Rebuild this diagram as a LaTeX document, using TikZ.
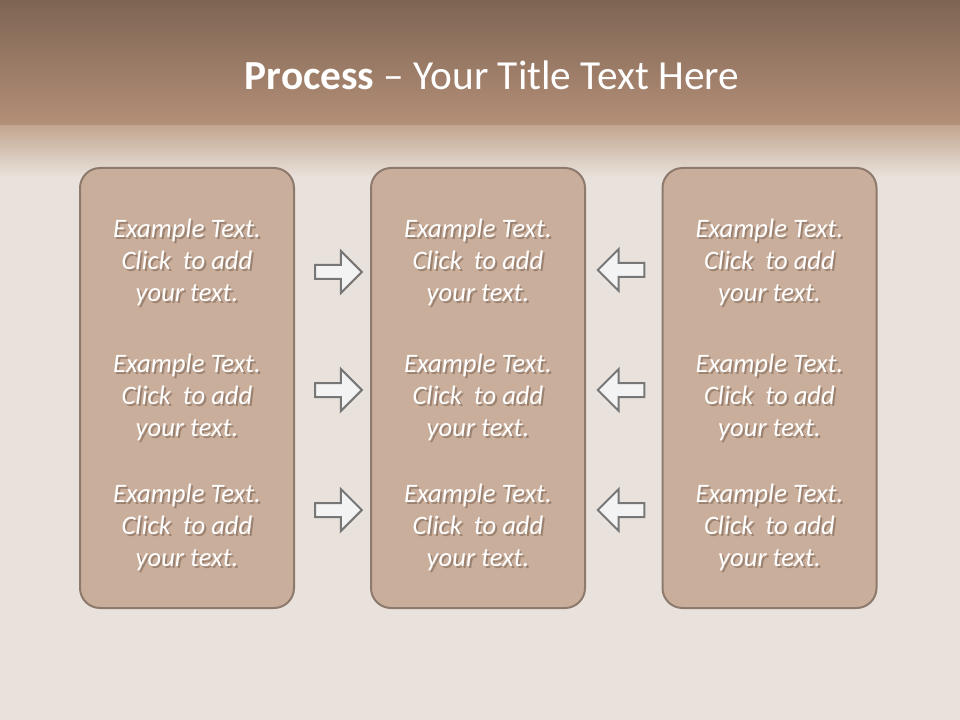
\documentclass[tikz,border=0pt]{standalone}
\usepackage{fontspec}
\setmainfont{Carlito}
\usetikzlibrary{shapes.arrows}
\definecolor{bgpaper}{HTML}{E9E2DC}
\definecolor{bandtop}{HTML}{7E6553}
\definecolor{bandbot}{HTML}{B48F78}
\definecolor{fadetop}{HTML}{C3A791}
\definecolor{boxfill}{HTML}{C9AE9B}
\definecolor{boxline}{HTML}{8E7A6D}
\definecolor{arrowfill}{HTML}{F3F3F3}
\definecolor{arrowline}{HTML}{777777}
\definecolor{txtshadow}{HTML}{6E5647}
\tikzset{
  panel/.style={draw=boxline, line width=1.5pt, fill=boxfill, rounded corners=15pt,
    minimum width=160.5pt, minimum height=330pt, inner sep=0pt},
  bodytext/.style={text=white, font=\fontsize{20}{24}\selectfont\itshape, align=center, inner sep=0pt},
  shadowtext/.style={text=txtshadow, opacity=0.5, font=\fontsize{20}{24}\selectfont\itshape, align=center, inner sep=0pt},
  blockarrow/.style={single arrow, draw=arrowline, line width=1.5pt, fill=arrowfill,
    minimum height=35pt, single arrow head extend=10.5pt, inner ysep=4.5pt, inner xsep=0pt},
  titletext/.style={text=white, font=\fontsize{31}{38}\selectfont, inner sep=0pt}
}
\begin{document}
\begin{tikzpicture}[x=0.75pt,y=-0.75pt]
\useasboundingbox (0,0) rectangle (960,720);
\fill[bgpaper] (0,0) rectangle (960,720);
\shade[top color=bandtop, bottom color=bandbot] (0,0) rectangle (960,126);
\shade[top color=fadetop, bottom color=bgpaper] (0,126) rectangle (960,178);
\node[titletext] (title) at (492,75) {\textbf{Process} – Your Title Text Here};

\node[panel] (p1) at (187,388) {};
\node[panel] (p2) at (478,388) {};
\node[panel] (p3) at (769.5,388) {};

\foreach \c/\x in {1/187,2/478,3/769.5}{
  \foreach \r/\y in {1/262,2/397,3/527}{
    \node[shadowtext] (s\c\r) at (\x+2,\y+2.5) {Example Text.\\Click\ \ to add\\your text.};
    \node[bodytext] (t\c\r) at (\x,\y) {Example Text.\\Click\ \ to add\\your text.};
  }
}

\node[blockarrow] (ar1) at (335,272) {};
\node[blockarrow] (ar2) at (335,390) {};
\node[blockarrow] (ar3) at (335,510) {};
\node[blockarrow, shape border rotate=180] (al1) at (624.5,270) {};
\node[blockarrow, shape border rotate=180] (al2) at (624.5,390) {};
\node[blockarrow, shape border rotate=180] (al3) at (624.5,510) {};
\end{tikzpicture}
\end{document}
